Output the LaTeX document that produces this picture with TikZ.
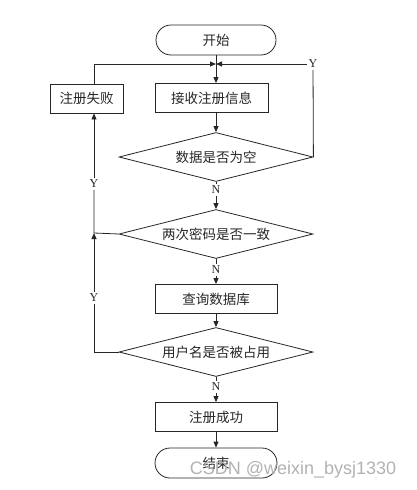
\documentclass[tikz,border=0pt]{standalone}
\usepackage{fontspec}
\usepackage{tikz}
\usetikzlibrary{shapes.geometric,arrows.meta}
\setmainfont{Liberation Serif}
\newfontfamily\cjk{Noto Sans CJK SC}
\newfontfamily\wmfont{Liberation Sans}
\begin{document}
\begin{tikzpicture}[x=1pt,y=-1pt,line width=0.8pt,color=black!85,
  >={Triangle[length=6pt,width=5pt]},
  cn/.style={font=\cjk\fontsize{13.5}{13.5}\selectfont},
  term/.style={cn,draw,rounded corners=15pt,minimum width=120pt,minimum height=30pt,inner sep=0pt},
  proc/.style={cn,draw,minimum height=29pt,inner sep=0pt},
  cond/.style={cn,draw,diamond,aspect=4,minimum width=194pt,minimum height=49pt,inner sep=0pt},
  lab/.style={inner sep=1.5pt,font=\fontsize{12}{12}\selectfont}]
\useasboundingbox (0,0) rectangle (417,490);

\coordinate (M) at (216,64);
\coordinate (J) at (94,233);

\node[term] (start) at (216,40) {开始};
\node[proc,minimum width=113pt] (recv) at (211.5,98) {接收注册信息};
\node[proc,minimum width=73pt] (fail) at (86.5,98.5) {注册失败};
\node[cond] (d1) at (216,157) {数据是否为空};
\node[cond] (d2) at (216,234) {两次密码是否一致};
\node[proc,minimum width=122pt] (query) at (216,299) {查询数据库};
\node[cond] (d3) at (216,352) {用户名是否被占用};
\node[proc,minimum width=122pt] (ok) at (216,417) {注册成功};
\node[term,minimum width=122pt] (stop) at (216,463) {结束};

\node[lab] (yA) at (313,64) {Y};
\node[lab] (yB) at (94,184) {Y};
\node[lab] (yC) at (94,298) {Y};
\node[lab] (nA) at (216,190) {N};
\node[lab] (nB) at (216,270) {N};
\node[lab] (nC) at (216,387) {N};

% main line
\draw[->] (start) -- (M |- recv.north);
\draw[->] (M |- recv.south) -- (d1);
\draw (d1) -- (nA);
\draw[->] (nA) -- (d2);
\draw (d2) -- (nB);
\draw[->] (nB) -- (query);
\draw[->] (query) -- (d3);
\draw (d3) -- (nC);
\draw[->] (nC) -- (ok);
\draw[->] (ok) -- (stop);

% back loops
\draw (d1.east) -- (yA);
\draw[->] (yA) -- (M);
\draw[->] (yB |- fail.north) |- (M);
\draw (d3.west) -| (yC);
\draw[->] (yC) -- (J);
\draw (d2.west) -- (J) -- (yB);
\draw[->] (yB) -- (yB |- fail.south);

\node[font=\wmfont\fontsize{18}{18}\selectfont,text=gray!60] (wm) at (293,470) {CSDN @weixin\_bysj1330};
\end{tikzpicture}
\end{document}
